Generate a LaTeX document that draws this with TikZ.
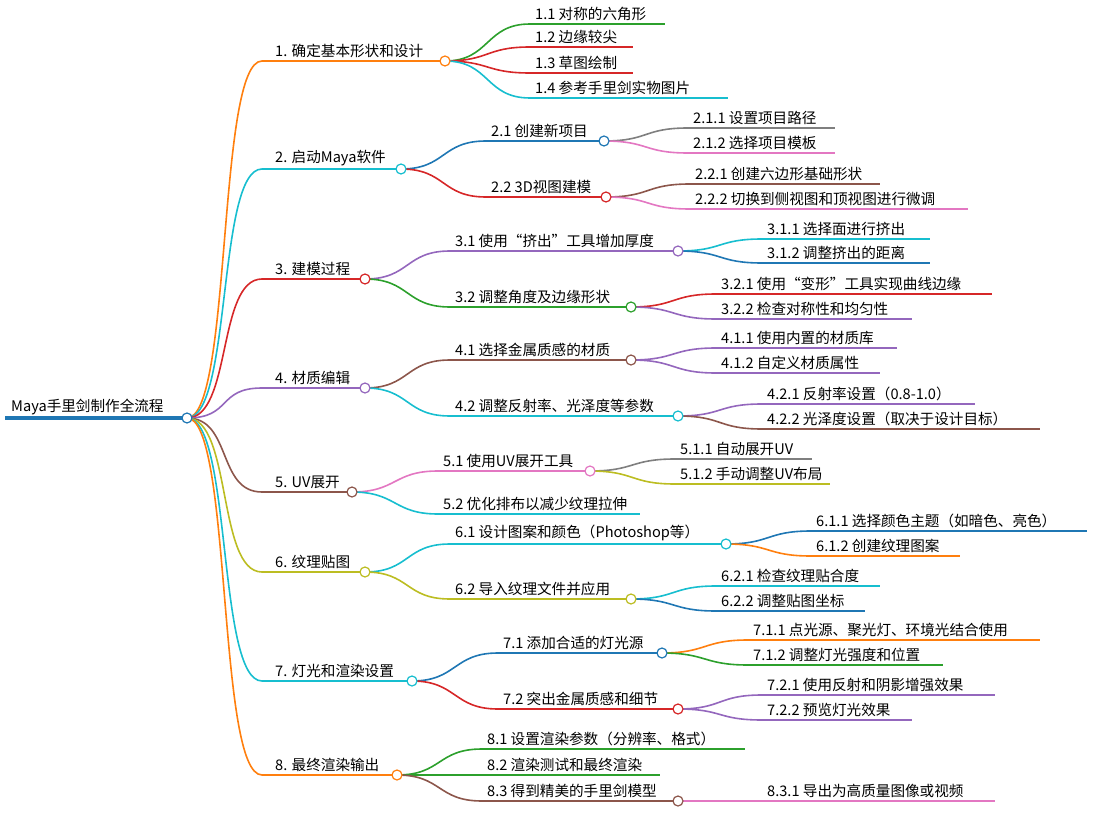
\documentclass[tikz,border=0pt]{standalone}
\usepackage{fontspec}
\setmainfont{Noto Sans CJK SC}
\definecolor{cor}{HTML}{FF7F0E}\definecolor{cte}{HTML}{17BECF}\definecolor{cre}{HTML}{D62728}
\definecolor{cpu}{HTML}{9467BD}\definecolor{cbr}{HTML}{8C564B}\definecolor{col}{HTML}{BCBD22}
\definecolor{cbl}{HTML}{1F77B4}\definecolor{cgr}{HTML}{2CA02C}\definecolor{cpi}{HTML}{E377C2}
\definecolor{cgy}{HTML}{7F7F7F}
\newcommand\nd[6]{% name x1 y x2 color text
 \coordinate (#1) at (#2,-#3); \coordinate (#1e) at (#4,-#3);
 \draw[#5, line width=1.6] (#1)--(#1e);
 \node[anchor=south west, inner sep=0, font=\fontsize{14.6}{16}\selectfont] (#1t) at (#2+5,-#3+3) {#6};}
\newcommand\cn[3]{\draw[#3, line width=1.6] (#1e) .. controls +(45,0) and +(-45,0) .. (#2);}
\newcommand\hb[2]{\node[circle, draw=#2, fill=white, line width=1.2, inner sep=0, minimum size=10] at (#1e) {};}
\begin{document}
\begin{tikzpicture}[x=1pt,y=1pt]
\useasboundingbox (0,0) rectangle (1093,-832);
% root
\coordinate (r) at (5,-418); \coordinate (re) at (187,-418);
\draw[cbl, line width=3.5] (r)--(re);
\node[anchor=south west, inner sep=0, font=\fontsize{14.6}{16}\selectfont] at (11,-415) {Maya手里剑制作全流程};
% level1
\nd{a}{262}{61}{445}{cor}{\hspace{8pt}1. 确定基本形状和设计}
\nd{b}{262}{169}{401}{cte}{\hspace{8pt}2. 启动Maya软件}
\nd{c}{262}{279}{365}{cre}{\hspace{8pt}3. 建模过程}
\nd{d}{262}{388}{365}{cpu}{\hspace{8pt}4. 材质编辑}
\nd{e}{262}{492}{352}{cbr}{\hspace{8pt}5. UV展开}
\nd{f}{262}{572}{365}{col}{\hspace{8pt}6. 纹理贴图}
\nd{g}{262}{681}{412}{cte}{\hspace{8pt}7. 灯光和渲染设置}
\nd{h}{262}{775}{397}{cor}{\hspace{8pt}8. 最终渲染输出}
\foreach \n/\c in {a/cor,b/cte,c/cre,d/cpu,e/cbr,f/col,g/cte,h/cor}{\cn{r}{\n}{\c}}
% 1
\nd{a1}{530}{24}{665}{cgr}{1.1 对称的六角形}
\nd{a2}{530}{47}{633}{cre}{1.2 边缘较尖}
\nd{a3}{530}{73}{633}{cre}{1.3 草图绘制}
\nd{a4}{530}{98}{728}{cte}{1.4 参考手里剑实物图片}
\foreach \n/\c in {a1/cgr,a2/cre,a3/cre,a4/cte}{\cn{a}{\n}{\c}}
% 2
\nd{b1}{486}{141}{604}{cbl}{2.1 创建新项目}
\nd{b2}{486}{197}{606}{cre}{2.2 3D视图建模}
\cn{b}{b1}{cbl}\cn{b}{b2}{cre}
\nd{b11}{688}{128}{835}{cgy}{2.1.1 设置项目路径}
\nd{b12}{688}{153}{835}{cpi}{2.1.2 选择项目模板}
\nd{b21}{690}{184}{880}{cbr}{2.2.1 创建六边形基础形状}
\nd{b22}{690}{209}{968}{cpi}{2.2.2 切换到侧视图和顶视图进行微调}
\cn{b1}{b11}{cgy}\cn{b1}{b12}{cpi}\cn{b2}{b21}{cbr}\cn{b2}{b22}{cpi}
% 3
\nd{c1}{450}{251}{678}{cpu}{3.1 使用“挤出”工具增加厚度}
\nd{c2}{450}{307}{631}{cgr}{3.2 调整角度及边缘形状}
\cn{c}{c1}{cpu}\cn{c}{c2}{cgr}
\nd{c11}{762}{239}{930}{cte}{3.1.1 选择面进行挤出}
\nd{c12}{762}{263}{930}{cbl}{3.1.2 调整挤出的距离}
\nd{c21}{716}{294}{992}{cre}{3.2.1 使用“变形”工具实现曲线边缘}
\nd{c22}{716}{319}{912}{cpu}{3.2.2 检查对称性和均匀性}
\cn{c1}{c11}{cte}\cn{c1}{c12}{cbl}\cn{c2}{c21}{cre}\cn{c2}{c22}{cpu}
% 4
\nd{d1}{450}{360}{631}{cbr}{4.1 选择金属质感的材质}
\nd{d2}{450}{416}{678}{cte}{4.2 调整反射率、光泽度等参数}
\cn{d}{d1}{cbr}\cn{d}{d2}{cte}
\nd{d11}{716}{348}{897}{cpu}{4.1.1 使用内置的材质库}
\nd{d12}{716}{373}{880}{cpu}{4.1.2 自定义材质属性}
\nd{d21}{762}{404}{975}{cpu}{4.2.1 反射率设置（0.8-1.0）}
\nd{d22}{762}{429}{1040}{cbr}{4.2.2 光泽度设置（取决于设计目标）}
\cn{d1}{d11}{cpu}\cn{d1}{d12}{cpu}\cn{d2}{d21}{cpu}\cn{d2}{d22}{cbr}
% 5
\nd{e1}{438}{471}{590}{cpi}{5.1 使用UV展开工具}
\nd{e2}{438}{514}{640}{cte}{5.2 优化排布以减少纹理拉伸}
\cn{e}{e1}{cpi}\cn{e}{e2}{cte}
\nd{e11}{675}{459}{812}{cgy}{5.1.1 自动展开UV}
\nd{e12}{675}{484}{830}{col}{5.1.2 手动调整UV布局}
\cn{e1}{e11}{cgy}\cn{e1}{e12}{col}
% 6
\nd{f1}{450}{544}{726}{cte}{6.1 设计图案和颜色（Photoshop等）}
\nd{f2}{450}{599}{631}{col}{6.2 导入纹理文件并应用}
\cn{f}{f1}{cte}\cn{f}{f2}{col}
\nd{f11}{811}{531}{1087}{cbl}{6.1.1 选择颜色主题（如暗色、亮色）}
\nd{f12}{811}{556}{960}{cor}{6.1.2 创建纹理图案}
\nd{f21}{716}{586}{880}{cte}{6.2.1 检查纹理贴合度}
\nd{f22}{716}{611}{865}{cbl}{6.2.2 调整贴图坐标}
\cn{f1}{f11}{cbl}\cn{f1}{f12}{cor}\cn{f2}{f21}{cte}\cn{f2}{f22}{cbl}
% 7
\nd{g1}{498}{653}{662}{cbl}{7.1 添加合适的灯光源}
\nd{g2}{498}{709}{678}{cre}{7.2 突出金属质感和细节}
\cn{g}{g1}{cbl}\cn{g}{g2}{cre}
\nd{g11}{748}{640}{1040}{cor}{7.1.1 点光源、聚光灯、环境光结合使用}
\nd{g12}{748}{665}{943}{cgr}{7.1.2 调整灯光强度和位置}
\nd{g21}{762}{695}{995}{cpu}{7.2.1 使用反射和阴影增强效果}
\nd{g22}{762}{720}{912}{cpu}{7.2.2 预览灯光效果}
\cn{g1}{g11}{cor}\cn{g1}{g12}{cgr}\cn{g2}{g21}{cpu}\cn{g2}{g22}{cpu}
% 8
\nd{h1}{482}{749}{745}{cgr}{8.1 设置渲染参数（分辨率、格式）}
\nd{h2}{482}{775}{660}{cgr}{8.2 渲染测试和最终渲染}
\nd{h3}{482}{801}{678}{cbr}{8.3 得到精美的手里剑模型}
\cn{h}{h1}{cgr}\cn{h}{h2}{cgr}\cn{h}{h3}{cbr}
\nd{h31}{762}{801}{995}{cpi}{8.3.1 导出为高质量图像或视频}
\cn{h3}{h31}{cpi}
% hubs
\hb{r}{cbl}
\foreach \n/\c in {a/cor,b/cte,c/cre,d/cpu,e/cbr,f/col,g/cte,h/cor,b1/cbl,b2/cre,c1/cpu,c2/cgr,d1/cbr,d2/cte,e1/cpi,f1/cte,f2/col,g1/cbl,g2/cre,h3/cbr}{\hb{\n}{\c}}
\end{tikzpicture}
\end{document}
